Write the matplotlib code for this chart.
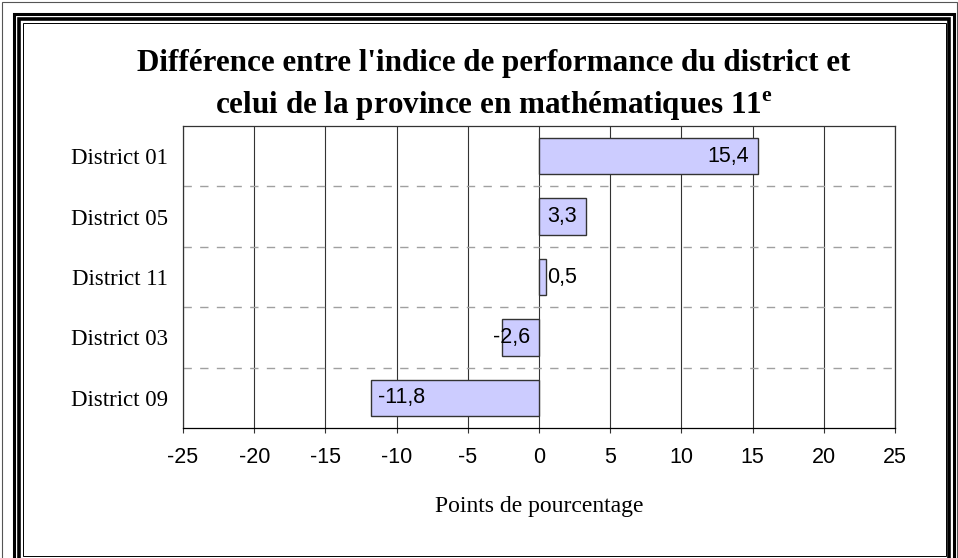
import matplotlib
matplotlib.use("Agg")
import matplotlib.pyplot as plt
from matplotlib.patches import Rectangle

categories = ["District 01", "District 05", "District 11", "District 03", "District 09"]
values = [15.4, 3.3, 0.5, -2.6, -11.8]
labels = ["15,4", "3,3", "0,5", "-2,6", "-11,8"]
xticks = [-25, -20, -15, -10, -5, 0, 5, 10, 15, 20, 25]
title = "Différence entre l'indice de performance du district et\ncelui de la province en mathématiques 11$^{\\mathregular{e}}$"
xlabel = "Points de pourcentage"

W, H = 958, 558
fig = plt.figure(figsize=(W / 100, H / 100), dpi=100)
ax = fig.add_axes([183 / W, 1 - 428 / H, (895 - 183) / W, (428 - 126) / H])

n = len(categories)
ypos = list(range(n))
ax.barh(ypos, values, height=0.6, color="#CCCCFF", edgecolor="#333333", linewidth=1.0, zorder=3)
ax.set_ylim(n - 0.5, -0.5)
ax.set_xlim(-25, 25)
ax.set_xticks(xticks)
ax.set_xticklabels([str(t) for t in xticks], family="Liberation Sans", fontsize=15.5)
ax.set_yticks(ypos)
ax.set_yticklabels(categories, family="Liberation Serif", fontsize=16.5)
ax.tick_params(axis="y", length=0, pad=11)
ax.tick_params(axis="x", length=3.5, direction="out", width=0.8, pad=10, color="#333333")
ax.xaxis.grid(True, color="#333333", linewidth=0.8, zorder=0)
ax.set_axisbelow(True)
for b in range(1, n):
    ax.axhline(b - 0.5, color="#A0A0A0", linewidth=1.0, linestyle=(0, (6, 6)), zorder=1)
for s in ax.spines.values():
    s.set_color("#333333")
    s.set_linewidth(0.9)
ax.spines["bottom"].set_color("black")

lab_kw = dict(textcoords="offset points", va="center", family="Liberation Sans", fontsize=15.5, zorder=4)
for y, v, t in zip(ypos, values, labels):
    if v >= 0:
        if v >= 2:
            ax.annotate(t, (v, y), xytext=(-6.5, 0), ha="right", **lab_kw)
        else:
            ax.annotate(t, (v, y), xytext=(1, 0), ha="left", **lab_kw)
    else:
        if v <= -4:
            ax.annotate(t, (v, y), xytext=(5, 0), ha="left", **lab_kw)
        else:
            ax.annotate(t, (0, y), xytext=(-6.5, 0), ha="right", **lab_kw)

ax.set_xlabel(xlabel, family="Liberation Serif", fontsize=17, labelpad=20)

fig.text(494 / W, 1 - 86 / H, title, ha="center", va="center", family="Liberation Serif",
         fontweight="bold", fontsize=22.4, linespacing=1.45)

# double frame (pixel edges: left, top, right, bottom)
def frame(l, t, r, b, lw, color):
    fig.patches.append(Rectangle((l / W, 1 - b / H), (r - l) / W, (b - t) / H,
                                 transform=fig.transFigure, fill=False, linewidth=lw,
                                 edgecolor=color, zorder=10))

frame(1.5, 1.5, 957, 575, 0.8, "#555555")
frame(14, 14, 953.5, 570, 2.2, "black")
frame(19, 19, 949, 562, 2.6, "black")
frame(22.5, 22.5, 946, 555.5, 0.7, "black")

fig.savefig("out.png", dpi=100)
